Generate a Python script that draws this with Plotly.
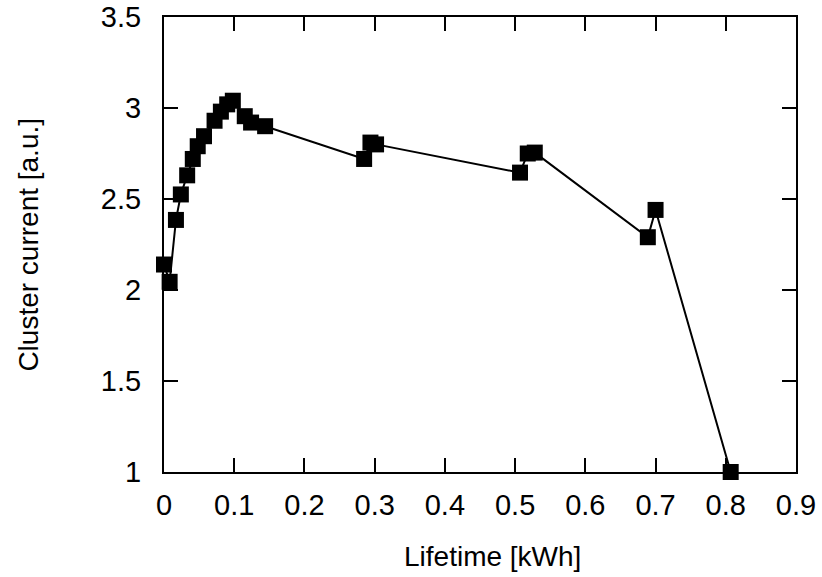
import plotly.graph_objects as go

# Lifetime [kWh] vs cluster current [a.u.]
lifetime = [0.0, 0.008, 0.017, 0.024, 0.033, 0.041, 0.048, 0.057, 0.072, 0.081,
            0.090, 0.098, 0.115, 0.124, 0.144, 0.285, 0.294, 0.302, 0.507, 0.518,
            0.528, 0.689, 0.700, 0.807]
current = [2.14, 2.045, 2.385, 2.525, 2.63, 2.72, 2.79, 2.845, 2.93, 2.98,
           3.02, 3.04, 2.955, 2.92, 2.90, 2.72, 2.81, 2.80, 2.645, 2.75,
           2.755, 2.29, 2.44, 1.0]

x_ticks = [0, 0.1, 0.2, 0.3, 0.4, 0.5, 0.6, 0.7, 0.8, 0.9]
x_labels = ["0", "0.1", "0.2", "0.3", "0.4", "0.5", "0.6", "0.7", "0.8", "0.9"]
y_ticks = [1, 1.5, 2, 2.5, 3, 3.5]
y_labels = ["1", "1.5", "2", "2.5", "3", "3.5"]

family = "Liberation Sans, Arial, sans-serif"
tick_font = dict(family=family, size=29, color="black")
title_font = dict(family=family, size=28, color="black")

fig = go.Figure()
fig.add_trace(
    go.Scatter(
        x=lifetime,
        y=current,
        mode="lines+markers",
        line=dict(color="black", width=2),
        marker=dict(symbol="square", size=16, color="black"),
        cliponaxis=False,
        showlegend=False,
    )
)

axis_style = dict(
    showline=True,
    linecolor="black",
    linewidth=2,
    mirror="ticks",
    ticks="inside",
    ticklen=14,
    tickwidth=1.5,
    tickcolor="black",
    showgrid=False,
    zeroline=False,
    tickfont=tick_font,
    automargin=False,
    ticklabeloverflow="allow",
)

fig.update_xaxes(range=[0, 0.9], tickvals=x_ticks, ticktext=x_labels,
                 ticklabelstandoff=6, **axis_style)
fig.update_yaxes(range=[1, 3.5], tickvals=y_ticks, ticktext=y_labels,
                 ticklabelstandoff=15, **axis_style)

# axis titles as annotations so they sit where the reference has them
fig.add_annotation(text="Lifetime [kWh]", xref="paper", yref="paper",
                   x=0.519, y=-0.186, xanchor="center", yanchor="middle",
                   showarrow=False, font=title_font)
fig.add_annotation(text="Cluster current [a.u.]", xref="paper", yref="paper",
                   x=-0.215, y=0.5, xanchor="center", yanchor="middle",
                   textangle=-90, showarrow=False, font=title_font)

fig.update_layout(
    width=822,
    height=577,
    margin=dict(l=164, r=26, t=17, b=105),
    plot_bgcolor="white",
    paper_bgcolor="white",
)

# drop the browser's default 8px body margin so the figure fills the window
fig.write_html("out.html", config={"displayModeBar": False},
               post_script="document.body.style.margin = '0';")
